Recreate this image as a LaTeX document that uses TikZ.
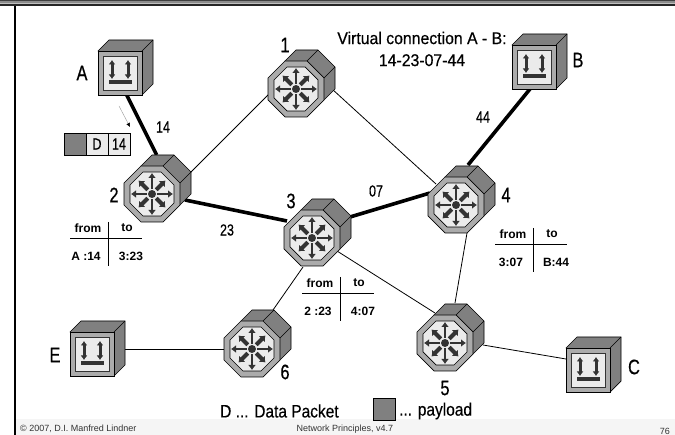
\documentclass[tikz,border=0pt]{standalone}
\usepackage{fontspec}
\usetikzlibrary{arrows.meta}
\setmainfont{Liberation Sans}
\newfontfamily\narrowfont[FakeStretch=0.78,FakeBold=0.5]{Liberation Sans}
\newfontfamily\titlefont[FakeStretch=0.93,FakeBold=0.5]{Liberation Sans}
\newfontfamily\legendfont[FakeStretch=0.86,FakeBold=0.4]{Liberation Sans}
\definecolor{facedark}{HTML}{808080}
\definecolor{facemid}{HTML}{ABABAB}
\definecolor{facelight}{HTML}{EBEBEB}
\definecolor{glyphdark}{HTML}{333333}
\definecolor{footerbg}{HTML}{F5F5F5}
\tikzset{
  devicebox/.style={inner sep=0pt, minimum size=44pt},
  routerbox/.style={inner sep=0pt, minimum size=56pt},
  thicklink/.style={line width=3.6pt, black},
  thinlink/.style={line width=0.8pt, black},
  devlabel/.style={font=\narrowfont\fontsize{21}{21}\selectfont},
  linklabel/.style={font=\narrowfont\fontsize{16}{16}\selectfont},
  headlabel/.style={font=\titlefont\fontsize{17}{22}\selectfont},
  legendlabel/.style={font=\legendfont\fontsize{18}{20}\selectfont},
  tablelabel/.style={font=\bfseries\fontsize{12}{12}\selectfont},
  footlabel/.style={font=\fontsize{9}{10}\selectfont, text=black!80},
  router/.pic={
    \draw[fill=facedark, line width=0.6pt] (-11,-28) -- (0,-39) -- (22,-39) -- (39,-22) -- (39,0) -- (22,17) -- (11,28) -- (28,11) -- cycle;
    \draw[line width=0.6pt] (11,-28) -- (22,-39);
    \draw[line width=0.6pt] (28,-11) -- (39,-22);
    \draw[fill=facemid, line width=0.7pt] (-11,-28) -- (11,-28) -- (28,-11) -- (28,11) -- (11,28) -- (-11,28) -- (-28,11) -- (-28,-11) -- cycle;
    \draw[fill=facelight, line width=0.7pt] (-9,-22) -- (9,-22) -- (22,-9) -- (22,9) -- (9,22) -- (-9,22) -- (-22,9) -- (-22,-9) -- cycle;
    \foreach \ang in {0,90,180,270}
      \draw[-{Latex[length=5pt,width=8pt]}, line width=2.4pt, glyphdark] (\ang:5) -- (\ang:21);
    \foreach \ang in {45,135,225,315}
      \draw[-{Latex[length=5pt,width=9pt]}, line width=4pt, glyphdark] (\ang:6) -- (\ang:19);
    \fill[glyphdark] (0,0) circle (4);
  },
  host/.pic={
    \draw[fill=facedark, line width=0.7pt] (-22,-22) -- (-11,-33) -- (33,-33) -- (33,11) -- (22,22) -- cycle;
    \draw[line width=0.7pt] (22,-22) -- (33,-33);
    \draw[fill=facemid, line width=0.7pt] (-22,-22) rectangle (22,22);
    \draw[fill=facelight, line width=0.7pt, draw=glyphdark] (-17,-17) rectangle (17,17);
    \foreach \xpos in {-8,8}
      \draw[{Latex[length=4.5pt,width=7pt]}-{Latex[length=4.5pt,width=7pt]}, line width=3pt, glyphdark] (\xpos,-13) -- (\xpos,6);
    \fill[glyphdark] (-11.5,7) rectangle (11.5,11);
  }
}
% one forwarding table, #1 prefix, (#2,#3) crossing of the rules
\newcommand{\fwdtable}[5]{
  \draw[line width=0.8pt] (#2-38,#3) -- (#2+34,#3);
  \draw[line width=0.8pt] (#2,#3-16) -- (#2,#3+28);
  \node[tablelabel] (#1from) at (#2-20,#3-10) {from};
  \node[tablelabel] (#1to) at (#2+19,#3-10) {to};
  \node[tablelabel] (#1in) at (#2-22,#3+18) {#4};
  \node[tablelabel] (#1out) at (#2+23,#3+18) {#5};
}
\begin{document}
\begin{tikzpicture}[x=1pt,y=-1pt]
  \useasboundingbox (0,0) rectangle (675,435);

  % Slide frame
  \fill[footerbg] (16,419.5) rectangle (675,435);
  \fill[black!75] (0,0) rectangle (675,1.5);
  \fill[black!45] (0,1.5) rectangle (675,3);
  \fill[black!25] (0,3) rectangle (675,4.5);
  \fill[black!85] (0,4.5) rectangle (675,6.5);
  \draw[line width=1.6pt] (15,6) -- (15,435);

  % Devices
  \node[devicebox] (hosta) at (120,73) {};
  \node[devicebox] (hostb) at (534,67) {};
  \node[devicebox] (hostc) at (588,370) {};
  \node[devicebox] (hoste) at (92,354) {};
  \node[routerbox] (rtone) at (296,89) {};
  \node[routerbox] (rttwo) at (152,194) {};
  \node[routerbox] (rtthree) at (312,238) {};
  \node[routerbox] (rtfour) at (456,205) {};
  \node[routerbox] (rtfive) at (445,343) {};
  \node[routerbox] (rtsix) at (252,349) {};

  % Thin links
  \draw[thinlink] ([shift={(38,-21)}]rttwo.center) -- ([shift={(-26,4)}]rtone.center);
  \draw[thinlink] ([shift={(36,0)}]rtone.center) -- ([shift={(-20,-21)}]rtfour.center);
  \draw[thinlink] ([shift={(25,13)}]rtthree.center) -- ([shift={(-10,-30)}]rtfive.center);
  \draw[thinlink] ([shift={(-9,29)}]rtthree.center) -- ([shift={(21,-39)}]rtsix.center);
  \draw[thinlink] ([shift={(11,28)}]rtfour.center) -- ([shift={(10,-40)}]rtfive.center);
  \draw[thinlink] ([shift={(0,-5)}]hoste.east) -- (rtsix.west);
  \draw[thinlink] ([shift={(38,2)}]rtfive.center) -- ([shift={(-22,-11)}]hostc.center);

  % Virtual connection A - B
  \draw[thicklink] ([shift={(6.7,22)}]hosta.center) -- ([shift={(4.7,-39)}]rttwo.center);
  \draw[thicklink] ([shift={(33,6)}]rttwo.center) -- ([shift={(-25,-17)}]rtthree.center);
  \draw[thicklink] ([shift={(38,-21)}]rtthree.center) -- ([shift={(-26,-12)}]rtfour.center);
  \draw[thicklink] ([shift={(12,-40)}]rtfour.center) -- ([shift={(-4,22)}]hostb.center);

  \path (hosta) pic {host};
  \path (hostb) pic {host};
  \path (hostc) pic {host};
  \path (hoste) pic {host};
  \path (rtone) pic {router};
  \path (rttwo) pic {router};
  \path (rtthree) pic {router};
  \path (rtfour) pic {router};
  \path (rtfive) pic {router};
  \path (rtsix) pic {router};

  % Device names
  \node[devlabel] (lbla) at (82,73) {A};
  \node[devlabel] (lblb) at (578,60) {B};
  \node[devlabel] (lblc) at (634,367) {C};
  \node[devlabel] (lble) at (55,355) {E};
  \node[devlabel] (lblone) at (285,45) {1};
  \node[devlabel] (lbltwo) at (114,195) {2};
  \node[devlabel] (lblthree) at (291,201) {3};
  \node[devlabel] (lblfour) at (506,195) {4};
  \node[devlabel] (lblfive) at (445,388) {5};
  \node[devlabel] (lblsix) at (285,372) {6};

  % Channel numbers
  \node[linklabel] (vcfourteen) at (163,127) {14};
  \node[linklabel] (vctwentythree) at (227,230) {23};
  \node[linklabel] (vczeroseven) at (376,191) {07};
  \node[linklabel] (vcfortyfour) at (483,117) {44};

  \node[headlabel, align=center] (vctitle) at (422,49) {Virtual connection A - B:\\14-23-07-44};

  % Packet on the way to 2
  \coordinate (pktfrom) at (119,106);
  \coordinate (pktto) at (130,127);
  \draw[-{Latex[length=4pt,width=4pt,black]}, black!40, line width=0.4pt] (pktfrom) -- (pktto);
  \node[draw, fill=facedark, line width=0.7pt, minimum width=22pt, minimum height=22pt, inner sep=0pt] (pktpay) at (75,144) {};
  \node[draw, fill=facelight, line width=0.7pt, minimum width=22pt, minimum height=22pt, inner sep=0pt, linklabel] (pktd) at (97,144) {D};
  \node[draw, fill=facelight, line width=0.7pt, minimum width=22pt, minimum height=22pt, inner sep=0pt, linklabel] (pktvc) at (119,144) {14};

  % Tables
  \fwdtable{tbltwo}{108}{238}{A :14}{3:23}
  \fwdtable{tblthree}{340}{293}{2 :23}{4:07}
  \fwdtable{tblfour}{533}{244}{3:07}{B:44}

  % Legend
  \node[legendlabel, anchor=west, inner sep=0pt] (legd) at (220,411) {D ... Data Packet};
  \node[draw, fill=facedark, line width=0.7pt, minimum width=22pt, minimum height=22pt, inner sep=0pt] (legbox) at (384,409) {};
  \node[legendlabel, anchor=west, inner sep=0pt] (legpay) at (399,411) {... payload};

  % Footer
  \node[footlabel, anchor=west, inner sep=0pt] (footl) at (20,429) {© 2007, D.I. Manfred Lindner};
  \node[footlabel, inner sep=0pt] (footm) at (345,429) {Network Principles, v4.7};
  \node[footlabel, anchor=east, inner sep=0pt] (footr) at (670,431) {76};
\end{tikzpicture}
\end{document}
